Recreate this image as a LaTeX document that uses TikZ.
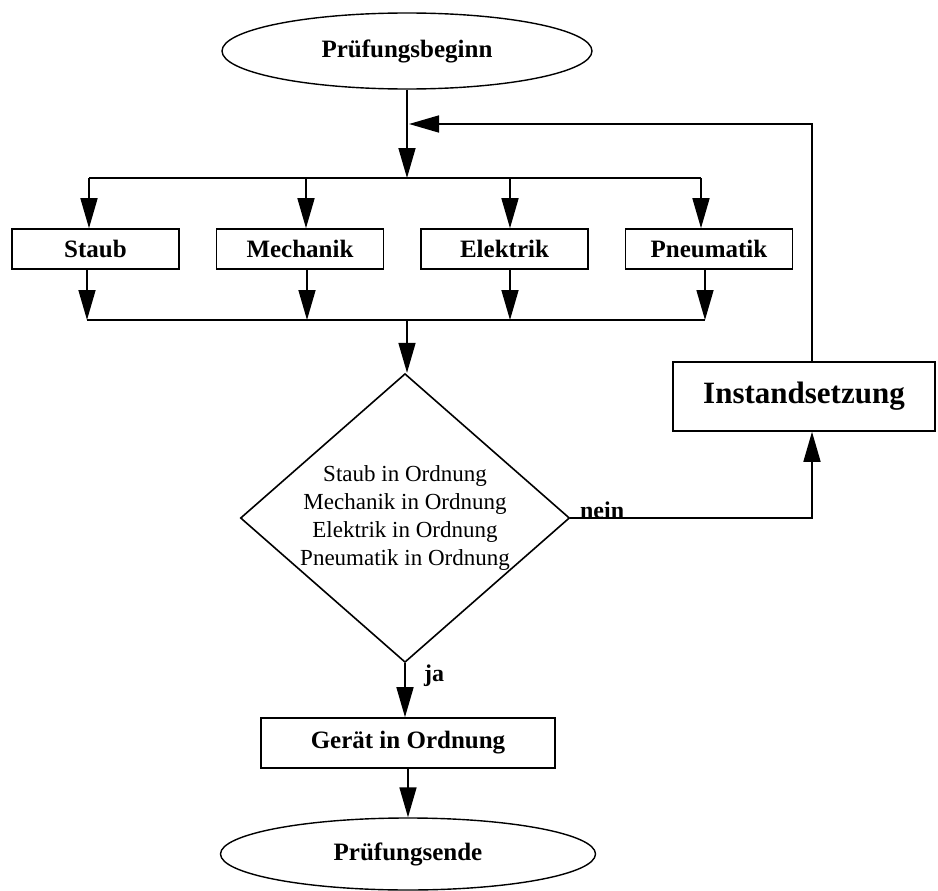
\documentclass[tikz,border=0pt]{standalone}
\usepackage{fontspec}
\setmainfont{Liberation Serif}
\usetikzlibrary{shapes.geometric, arrows.meta}

\begin{document}
\begin{tikzpicture}[x=1pt, y=-1pt, line width=1.6pt,
		arr/.style={-{Triangle[length=30pt, width=17pt]}},
		term/.style={draw, ellipse, line width=1.4pt, inner sep=0pt, font=\bfseries\fontsize{25}{30}\selectfont},
		testbox/.style={draw, rectangle, minimum width=167pt, minimum height=40pt, inner sep=0pt, font=\bfseries\fontsize{25}{30}\selectfont},
		check/.style={draw, diamond, aspect=1.14, inner sep=0pt, align=center, font=\fontsize{23}{28}\selectfont},
		lbl/.style={font=\bfseries\fontsize{24}{28}\selectfont}]
	\useasboundingbox (0,0) rectangle (938,891);

	% nodes
	\node [term, minimum width=370pt, minimum height=76pt] (start) at (407,51) {Prüfungsbeginn};
	\node [testbox] (staub) at (95.5,249) {Staub};
	\node [testbox] (mech) at (300,249) {Mechanik};
	\node [testbox] (elek) at (504.5,249) {Elektrik};
	\node [testbox] (pneu) at (709,249) {Pneumatik};
	\node [check] (dia) at (405,518) {Staub in Ordnung\\Mechanik in Ordnung\\Elektrik in Ordnung\\Pneumatik in Ordnung};
	\node [testbox, minimum width=262pt, minimum height=69pt, font=\bfseries\fontsize{31}{36}\selectfont] (inst) at (804,396.5) {Instandsetzung};
	\node [testbox, minimum width=294pt, minimum height=50pt] (ok) at (408,743) {Gerät in Ordnung};
	\node [term, minimum width=375pt, minimum height=72pt] (ende) at (408,854) {Prüfungsende};

	% branch points
	\coordinate (t0) at (407,178);
	\coordinate (c0) at (407,320);
	\coordinate (fb) at (812,124);
	\coordinate (fbin) at (409,124);
	\foreach \n/\x in {b1/89, b2/306, b3/510, b4/701}
		\coordinate (\n) at (\x,178);
	\foreach \n/\x in {c1/87, c2/307, c3/510, c4/705}
		\coordinate (\n) at (\x,320);

	% connectors
	\draw [arr] (start.south) -- (t0);
	\draw (b1) -- (b4);
	\foreach \n/\t in {b1/staub, b2/mech, b3/elek, b4/pneu}
		\draw [arr] (\n) -- (\n |- \t.north);
	\foreach \n/\t in {c1/staub, c2/mech, c3/elek, c4/pneu}
		\draw [arr] (\n |- \t.south) -- (\n);
	\draw (c1) -- (c4);
	\draw [arr] (c0) -- (c0 |- dia.north);
	\draw [arr] (dia.east) -- (dia.east -| fb) -- (fb |- inst.south);
	\draw [arr] (fb |- inst.north) -- (fb) -- (fbin);
	\draw [arr] (dia.south) -- (dia.south |- ok.north);
	\draw [arr] (ok.south) -- (ende.north);

	% labels
	\node [lbl, anchor=west] (nein) at (576,510) {nein};
	\node [lbl, anchor=west] (ja) at (420,676) {ja};
\end{tikzpicture}
\end{document}
